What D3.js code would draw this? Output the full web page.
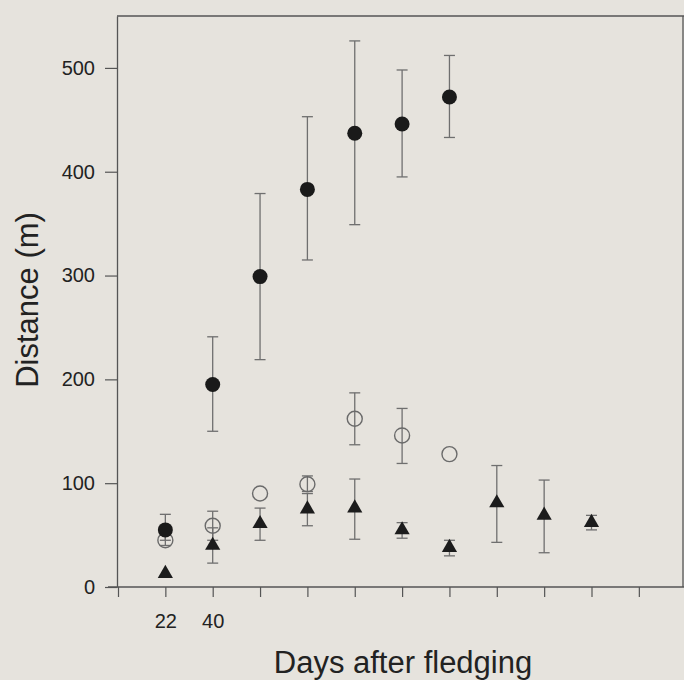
<!DOCTYPE html>
<html>
<head>
<meta charset="utf-8">
<script src="https://cdn.jsdelivr.net/npm/d3@7"></script>
<style>
  body { margin: 0; background: #e6e3dd; }
  svg { display: block; }
  text { font-family: "Liberation Sans", Arial, Helvetica, sans-serif; fill: #222; }
</style>
</head>
<body>
<script>
'use strict';

// x positions are day classes (index); only the first two are labelled
const tickLabels = ["", "22", "40", "", "", "", "", "", "", "", "", ""];
const yTicks = [0, 100, 200, 300, 400, 500];

// filled circles
const filledX = [1, 2, 3, 4, 5, 6, 7];
const filledMean = [55, 195, 299, 383, 437, 446, 472];
const filledLow = [45, 150, 219, 315, 349, 395, 433];
const filledHigh = [70, 241, 379, 453, 526, 498, 512];

// open circles (null = no error bar)
const openX = [1, 2, 3, 4, 5, 6, 7];
const openMean = [45, 59, 90, 99, 162, 146, 128];
const openLow = [40, 45, null, 92, 137, 119, null];
const openHigh = [50, 73, null, 107, 187, 172, null];

// triangles
const triX = [1, 2, 3, 4, 5, 6, 7, 8, 9, 10];
const triMean = [13, 40, 61, 75, 76, 55, 38, 81, 69, 62];
const triLow = [null, 23, 45, 59, 46, 47, 30, 43, 33, 55];
const triHigh = [null, 57, 76, 90, 104, 62, 45, 117, 103, 69];

(function() {
  const width = 684, height = 680;

  const svg = d3.select('body').append('svg')
    .attr('width', width)
    .attr('height', height);

  const x = d3.scaleLinear().domain([0, 12]).range([118, 686.2]);
  const y = d3.scaleLinear().domain([0, 550]).range([587, 16]);

  const axisColor = '#555';
  const barColor = '#6f6f6f';

  // frame: top and right sides
  svg.append('line')
    .attr('x1', x(0) - 1).attr('x2', 684)
    .attr('y1', y(550)).attr('y2', y(550))
    .attr('stroke', axisColor).attr('stroke-width', 1.3);
  svg.append('line')
    .attr('x1', 683).attr('x2', 683)
    .attr('y1', y(550)).attr('y2', y(0))
    .attr('stroke', axisColor).attr('stroke-width', 1.3);

  // y axis
  const yAxis = d3.axisLeft(y)
    .tickValues(yTicks)
    .tickSizeInner(12)
    .tickSizeOuter(0)
    .tickPadding(10);
  const gy = svg.append('g')
    .attr('transform', 'translate(' + (x(0) - 1) + ',0)')
    .call(yAxis);
  gy.select('.domain').attr('stroke', axisColor).attr('stroke-width', 1.3);
  gy.selectAll('.tick line').attr('stroke', axisColor).attr('stroke-width', 1.2);
  gy.selectAll('.tick text')
    .style('font-size', '20px')
    .attr('fill', '#333')
    .attr('font-family', '"Liberation Sans", Arial, sans-serif');

  // x axis
  const xAxis = d3.axisBottom(x)
    .tickValues(d3.range(0, 12))
    .tickFormat((d) => tickLabels[d])
    .tickSizeInner(10)
    .tickSizeOuter(0)
    .tickPadding(17);
  const gx = svg.append('g')
    .attr('transform', 'translate(0,' + y(0) + ')')
    .call(xAxis);
  gx.select('.domain').remove();
  gx.append('line')
    .attr('x1', x(0) - 10).attr('x2', 684)
    .attr('y1', 0).attr('y2', 0)
    .attr('stroke', axisColor).attr('stroke-width', 1.3);
  gx.selectAll('.tick line').attr('stroke', axisColor).attr('stroke-width', 1.2);
  gx.selectAll('.tick text')
    .style('font-size', '20px')
    .attr('fill', '#333')
    .attr('font-family', '"Liberation Sans", Arial, sans-serif');

  // error bars
  function drawBars(xs, lows, highs) {
    const rows = xs.map((d, i) => ({ x: d, lo: lows[i], hi: highs[i] }))
      .filter((d) => d.lo != null);
    const g = svg.append('g')
      .attr('stroke', barColor)
      .attr('stroke-width', 1.3)
      .attr('fill', 'none');
    rows.forEach((d) => {
      g.append('line')
        .attr('x1', x(d.x)).attr('x2', x(d.x))
        .attr('y1', y(d.lo)).attr('y2', y(d.hi));
      [d.lo, d.hi].forEach((v) => {
        g.append('line')
          .attr('x1', x(d.x) - 5.5).attr('x2', x(d.x) + 5.5)
          .attr('y1', y(v)).attr('y2', y(v));
      });
    });
  }

  drawBars(triX, triLow, triHigh);
  drawBars(openX, openLow, openHigh);
  drawBars(filledX, filledLow, filledHigh);

  // triangles
  svg.append('g').selectAll('path')
    .data(triX.map((d, i) => ({ x: d, v: triMean[i] })))
    .enter()
    .append('path')
    .attr('d', d3.symbol().type(d3.symbolTriangle).size(100))
    .attr('transform', (d) => 'translate(' + x(d.x) + ',' + y(d.v) + ')')
    .attr('fill', '#1c1c1c');

  // open circles
  svg.append('g').selectAll('circle')
    .data(openX.map((d, i) => ({ x: d, v: openMean[i] })))
    .enter()
    .append('circle')
    .attr('cx', (d) => x(d.x))
    .attr('cy', (d) => y(d.v))
    .attr('r', 7.5)
    .attr('fill', 'none')
    .attr('stroke', '#6a6a6a')
    .attr('stroke-width', 1.4);

  // filled circles
  svg.append('g').selectAll('circle')
    .data(filledX.map((d, i) => ({ x: d, v: filledMean[i] })))
    .enter()
    .append('circle')
    .attr('cx', (d) => x(d.x))
    .attr('cy', (d) => y(d.v))
    .attr('r', 7.5)
    .attr('fill', '#1a1a1a');

  // axis titles
  svg.append('text')
    .attr('x', 403)
    .attr('y', 673)
    .attr('text-anchor', 'middle')
    .style('font-size', '31px')
    .attr('fill', '#222')
    .text('Days after fledging');

  svg.append('text')
    .attr('transform', 'translate(38, 300)rotate(-90)')
    .attr('text-anchor', 'middle')
    .style('font-size', '31px')
    .attr('fill', '#222')
    .text('Distance (m)');
})();
</script>
</body>
</html>
